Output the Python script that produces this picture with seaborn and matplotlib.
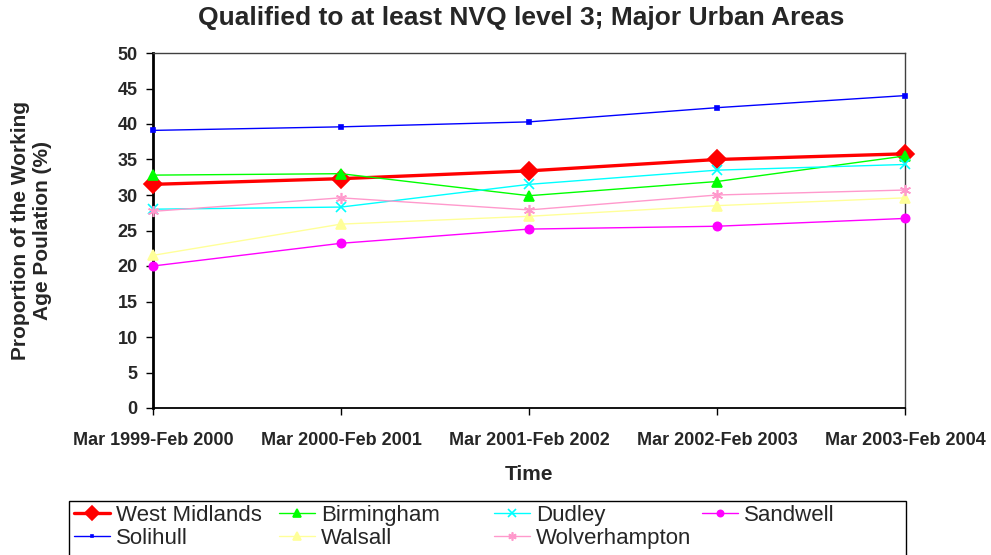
import pandas as pd
import numpy as np
import matplotlib.pyplot as plt
import seaborn as sns
from matplotlib.patches import Rectangle

periods = ["Mar 1999-Feb 2000", "Mar 2000-Feb 2001", "Mar 2001-Feb 2002",
           "Mar 2002-Feb 2003", "Mar 2003-Feb 2004"]

west_midlands = [31.5, 32.3, 33.4, 35.0, 35.8]
birmingham = [32.8, 33.0, 29.9, 31.9, 35.5]
dudley = [28.0, 28.3, 31.5, 33.5, 34.3]
sandwell = [20.0, 23.2, 25.2, 25.6, 26.7]
solihull = [39.1, 39.6, 40.3, 42.3, 44.0]
walsall = [21.5, 25.9, 27.0, 28.5, 29.6]
wolverhampton = [27.7, 29.6, 27.9, 30.0, 30.7]

series = {
    "West Midlands": west_midlands,
    "Solihull": solihull,
    "Birmingham": birmingham,
    "Walsall": walsall,
    "Dudley": dudley,
    "Wolverhampton": wolverhampton,
    "Sandwell": sandwell,
}

# estilo de cada serie (cor, marcador, tamanho, espessura)
estilos = {
    "West Midlands": ("#FF0000", "D", 9, 2.4),
    "Solihull": ("#0000FF", "s", 2.5, 1.0),
    "Birmingham": ("#00FF00", "^", 7, 1.0),
    "Walsall": ("#FFFF99", "^", 7, 1.0),
    "Dudley": ("#00FFFF", "x", 7, 1.0),
    "Wolverhampton": ("#FF99CC", (6, 2, 0), 8, 1.0),
    "Sandwell": ("#FF00FF", "o", 6, 1.0),
}

linhas = []
for nome, valores in series.items():
    for i, v in enumerate(valores):
        linhas.append({"serie": nome, "x": i, "valor": v})
df = pd.DataFrame(linhas)

sns.set_style("white")
plt.rcParams["font.family"] = ["Liberation Sans", "DejaVu Sans"]

fig = plt.figure(figsize=(9.91, 5.55), dpi=100)
ax = fig.add_axes([153 / 991, 1 - 408 / 555, (905 - 153) / 991, (408 - 53) / 555])

for nome in series:
    cor, marc, tam, lw = estilos[nome]
    sns.lineplot(data=df[df["serie"] == nome], x="x", y="valor", ax=ax,
                 color=cor, marker=marc, markersize=tam, linewidth=lw,
                 markeredgecolor=cor, markeredgewidth=1.2, label=nome,
                 legend=False, clip_on=False, zorder=3)

ax.set_xlim(0, 4)
ax.set_ylim(0, 50)
ax.set_yticks(range(0, 51, 5))
ax.set_xticks(range(len(periods)))
ax.set_xticklabels(periods, fontsize=13, fontweight="bold")
for t in ax.get_yticklabels():
    t.set_fontsize(13)
    t.set_fontweight("bold")
ax.tick_params(axis="both", direction="out", length=5, width=1, color="black",
               left=True, bottom=True, pad=6)
ax.tick_params(axis="x", pad=12)

ax.spines["left"].set_linewidth(2)
ax.spines["left"].set_color("black")
ax.spines["bottom"].set_linewidth(1.3)
ax.spines["bottom"].set_color("black")
ax.spines["top"].set_linewidth(1)
ax.spines["top"].set_color("#404040")
ax.spines["right"].set_linewidth(1)
ax.spines["right"].set_color("#404040")

ax.set_xlabel("Time", fontsize=15, fontweight="bold", labelpad=12)
ax.set_ylabel("Proportion of the Working\nAge Poulation (%)", fontsize=15,
              fontweight="bold")
ax.yaxis.set_label_coords(-0.134, 0.5)
fig.text(0.526, 0.99, "Qualified to at least NVQ level 3; Major Urban Areas",
         ha="center", va="top", fontsize=19, fontweight="bold")

# legenda: colunas de largura igual como no original
handles, labels = ax.get_legend_handles_labels()
h = dict(zip(labels, handles))
colunas = [["West Midlands", "Solihull"], ["Birmingham", "Walsall"],
           ["Dudley", "Wolverhampton"], ["Sandwell"]]
x_col = [74, 279, 494, 702]
topo = 1 - 505 / 555
for xc, col in zip(x_col, colunas):
    fig.legend([h[n] for n in col], col, loc="upper left",
               bbox_to_anchor=(xc / 991, topo), frameon=False, fontsize=16,
               handlelength=1.6, handletextpad=0.3, borderpad=0,
               labelspacing=0.1, borderaxespad=0, markerscale=0.75)
fig.patches.append(Rectangle((69 / 991, -0.05), (906 - 69) / 991, 0.05 + 1 - 501 / 555,
                             transform=fig.transFigure, fill=False,
                             edgecolor="black", linewidth=1))

fig.savefig("out.png", dpi=100)
